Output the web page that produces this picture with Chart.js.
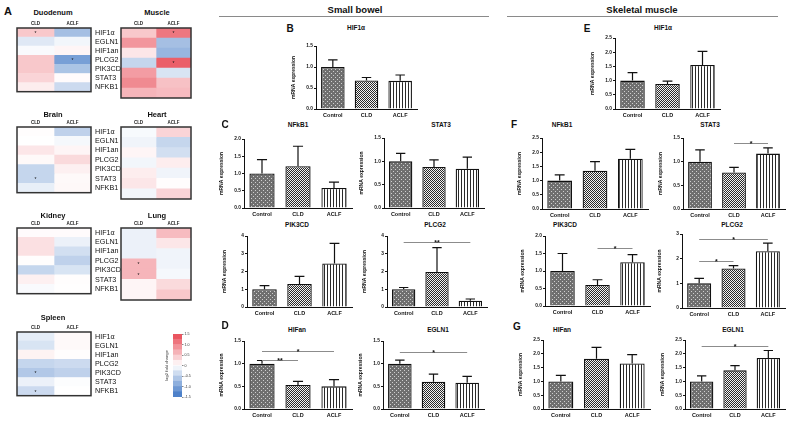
<!DOCTYPE html>
<html><head><meta charset="utf-8">
<script src="https://cdn.jsdelivr.net/npm/chart.js@4.4.1/dist/chart.umd.min.js"></script>
<style>
body{margin:0;width:791px;height:422px;background:#fff;position:relative;overflow:hidden;font-family:"Liberation Sans",Arial,sans-serif;}
.t{position:absolute;transform:translate(-50%,-50%);white-space:nowrap;font-weight:bold;color:#111;line-height:1;}
.hl{position:absolute;height:0;border-top:1px solid #8a8a8a;}
canvas{position:absolute;}
</style></head><body>
<script>
// ---------------- DATA ----------------
const groups = ['Control', 'CLD', 'ACLF'];
const genes = ['HIF1α', 'EGLN1', 'HIF1an', 'PLCG2', 'PIK3CD', 'STAT3', 'NFKB1'];

// heatmap log2 fold change (CLD, ACLF) per organ
const duodenumCLD  = [0.45, -0.25, -0.05, 0.45, 0.45, 0.35, 0.15];
const duodenumACLF = [-0.7, -0.1, 0.08, -1.05, -0.65, 0.03, -0.4];
const muscleCLD    = [0.45, 0.85, 0.2, -0.45, 0.8, 0.95, 0.6];
const muscleACLF   = [1.1, -0.7, -0.8, 1.3, -0.3, 0.5, 0.55];
const brainCLD     = [0.02, 0.0, 0.2, 0.05, -0.45, -0.45, -0.18];
const brainACLF    = [-0.5, -0.08, 0.08, 0.3, 0.12, 0.05, 0.06];
const heartCLD     = [-0.06, -0.12, 0.08, -0.1, 0.15, 0.2, -0.1];
const heartACLF    = [0.35, -0.45, -0.35, 0.15, -0.12, 0.02, 0.35];
const kidneyCLD    = [0.03, 0.25, 0.25, 0.02, -0.45, 0.12, -0.05];
const kidneyACLF   = [0.03, -0.15, -0.35, -0.5, -0.3, 0.02, 0.01];
const lungCLD      = [-0.15, -0.15, -0.15, 0.6, 0.6, 0.08, 0.08];
const lungACLF     = [0.55, 0.2, -0.12, -0.12, -0.08, 0.3, 0.45];
const spleenCLD    = [-0.2, -0.3, 0.1, -0.45, -0.6, -0.15, -0.4];
const spleenACLF   = [0.05, 0.05, 0.02, -0.4, -0.5, -0.02, 0.0];
// significance markers (gene index)
const duodenumStarsCLD = [0], duodenumStarsACLF = [3];
const muscleStarsCLD = [], muscleStarsACLF = [0, 3];
const brainStarsCLD = [5], brainStarsACLF = [];
const heartStarsCLD = [], heartStarsACLF = [];
const kidneyStarsCLD = [], kidneyStarsACLF = [];
const lungStarsCLD = [3, 4], lungStarsACLF = [];
const spleenStarsCLD = [4, 6], spleenStarsACLF = [];
const colorbarLevels = [-1.5, -1.25, -1, -0.75, -0.5, -0.25, 0, 0.25, 0.5, 0.75, 1, 1.25, 1.5];
const colorbarTicks = [-1.5, -1, -0.5, 0, 0.5, 1, 1.5];

// small bowel mRNA expression (mean, SEM)
const sbHIF1a = [1.00, 0.68, 0.67],  sbHIF1aErr = [0.17, 0.07, 0.14];
const sbNFKB1 = [1.00, 1.21, 0.58],  sbNFKB1Err = [0.40, 0.58, 0.17];
const sbSTAT3 = [1.00, 0.88, 0.84],  sbSTAT3Err = [0.17, 0.15, 0.25];
const sbPIK3CD = [1.00, 1.30, 2.45], sbPIK3CDErr = [0.20, 0.43, 1.13];
const sbPLCG2 = [1.00, 1.97, 0.35],  sbPLCG2Err = [0.10, 1.38, 0.10];
const sbHIFan = [1.00, 0.53, 0.50],  sbHIFanErr = [0.07, 0.08, 0.15];
const sbEGLN1 = [1.00, 0.60, 0.58],  sbEGLN1Err = [0.08, 0.17, 0.14];
// skeletal muscle
const smHIF1a = [1.00, 0.88, 1.55],  smHIF1aErr = [0.28, 0.10, 0.48];
const smNFKB1 = [1.00, 1.35, 1.77],  smNFKB1Err = [0.20, 0.32, 0.33];
const smSTAT3 = [1.00, 0.77, 1.17],  smSTAT3Err = [0.25, 0.11, 0.12];
const smPIK3CD = [1.00, 0.60, 1.25], smPIK3CDErr = [0.50, 0.15, 0.22];
const smPLCG2 = [1.00, 1.60, 2.30],  smPLCG2Err = [0.20, 0.12, 0.33];
const smHIFan = [1.00, 1.82, 1.65],  smHIFanErr = [0.22, 0.41, 0.32];
const smEGLN1 = [1.00, 1.40, 1.85],  smEGLN1Err = [0.20, 0.17, 0.27];
// significance brackets [from, to, value, label]
const sbPLCG2Sig = [[0, 2, 3.66, '**']];
const sbHIFanSig = [[0, 1, 1.09, '**'], [0, 2, 1.28, '*']];
const sbEGLN1Sig = [[0, 2, 1.25, '*']];
const smSTAT3Sig = [[1, 2, 1.39, '*']];
const smPIK3CDSig = [[1, 2, 1.65, '*']];
const smPLCG2Sig = [[0, 1, 1.9, '*'], [0, 2, 2.8, '*']];
const smEGLN1Sig = [[0, 2, 2.28, '*']];

// ---------------- HELPERS ----------------
const FF = '"Liberation Sans", Arial, sans-serif';
function addText(txt, x, y, size, extra) {
  const d = document.createElement('div');
  d.className = 't'; d.textContent = txt;
  d.style.left = x + 'px'; d.style.top = y + 'px'; d.style.fontSize = size + 'px';
  if (extra) Object.assign(d.style, extra);
  document.body.appendChild(d);
}
function hline(x, y, w) {
  const d = document.createElement('div'); d.className = 'hl';
  d.style.left = x + 'px'; d.style.top = y + 'px'; d.style.width = w + 'px';
  document.body.appendChild(d);
}
function makeCanvas(x, y, w, h) {
  const c = document.createElement('canvas');
  c.width = Math.round(w); c.height = Math.round(h);
  c.style.left = Math.round(x) + 'px'; c.style.top = Math.round(y) + 'px';
  document.body.appendChild(c); return c;
}
function pattern(size, draw) {
  const c = document.createElement('canvas'); c.width = size; c.height = size;
  const g = c.getContext('2d'); draw(g);
  return g.createPattern(c, 'repeat');
}
const patCtrl = pattern(4, g => { g.fillStyle = '#6f6f6f'; g.fillRect(0,0,4,4); g.fillStyle = '#cfcfcf'; g.fillRect(0,0,1,1); g.fillRect(2,2,1,1); });
const patCLD = pattern(2, g => { g.fillStyle = '#f2f2f2'; g.fillRect(0,0,2,2); g.fillStyle = '#2a2a2a'; g.fillRect(0,0,1,1); g.fillRect(1,1,1,1); });
const patACLF = pattern(3, g => { g.fillStyle = '#ffffff'; g.fillRect(0,0,3,3); g.fillStyle = '#2a2a2a'; g.fillRect(0,0,1,3); });

function colorFor(v) {
  const t = Math.max(-1, Math.min(1, v / 1.5));
  let c;
  if (t >= 0) c = [255 + (232 - 255) * t, 255 + (70 - 255) * t, 255 + (82 - 255) * t];
  else { const s = -t; c = [255 + (62 - 255) * s, 255 + (118 - 255) * s, 255 + (196 - 255) * s]; }
  return 'rgb(' + c.map(Math.round).join(',') + ')';
}

// ---------------- BAR CHARTS ----------------
const errPlugin = {
  id: 'errbars',
  afterDatasetsDraw(chart) {
    const ctx = chart.ctx, ys = chart.scales.y, xs = chart.scales.x;
    const ds = chart.data.datasets[0], meta = chart.getDatasetMeta(0);
    ctx.save();
    ctx.strokeStyle = '#111'; ctx.lineWidth = 1.2;
    meta.data.forEach((bar, i) => {
      const v = ds.data[i], e = ds.errs[i];
      const y0 = ys.getPixelForValue(v), y1 = ys.getPixelForValue(v + e);
      const cw = bar.width * 0.2;
      ctx.beginPath();
      ctx.moveTo(bar.x, y0); ctx.lineTo(bar.x, y1);
      ctx.moveTo(bar.x - cw, y1); ctx.lineTo(bar.x + cw, y1);
      ctx.stroke();
    });
    (ds.sigs || []).forEach(s => {
      const xa = xs.getPixelForValue(s[0]), xb = xs.getPixelForValue(s[1]);
      const yy = Math.round(ys.getPixelForValue(s[2])) + 0.5;
      ctx.strokeStyle = '#8c8c8c'; ctx.lineWidth = 1;
      ctx.beginPath(); ctx.moveTo(xa, yy); ctx.lineTo(xb, yy); ctx.stroke();
      ctx.fillStyle = '#111'; ctx.font = 'bold 7px ' + FF;
      ctx.textAlign = 'center'; ctx.textBaseline = 'alphabetic';
      ctx.fillText(s[3], (xa + xb) / 2, yy + 2.5);
    });
    ctx.restore();
  }
};
const BL = 25, BT = 5, BR = 3, BB = 12;
function barChart(rect, values, errs, yMax, yStep, sigs) {
  const [x0, x1, yT, yB] = rect;
  const c = makeCanvas(x0 - BL, yT - BT, x1 - x0 + BL + BR, yB - yT + BT + BB);
  new Chart(c, {
    type: 'bar',
    data: { labels: groups, datasets: [{
      data: values, errs: errs, sigs: sigs,
      backgroundColor: [patCtrl, patCLD, patACLF],
      borderColor: '#111', borderWidth: 1.3,
      barPercentage: 0.7, categoryPercentage: 1
    }] },
    options: {
      responsive: false, animation: false, events: [],
      layout: { padding: { top: BT, right: BR, left: 0, bottom: 0 } },
      plugins: { legend: { display: false }, tooltip: { enabled: false } },
      scales: {
        x: {
          grid: { display: false, drawTicks: false }, border: { color: '#111', width: 1 },
          ticks: { font: { size: 5.5, weight: 'bold', family: FF }, color: '#111', padding: 3, maxRotation: 0, autoSkip: false },
          afterFit: s => { s.height = BB; }
        },
        y: {
          min: 0, max: yMax,
          ticks: { stepSize: yStep, font: { size: 4.8, weight: 'bold', family: FF }, color: '#111', padding: 1,
                   callback: v => yStep < 1 ? Number(v).toFixed(1) : String(v) },
          grid: { display: true, drawOnChartArea: false, drawTicks: true, tickLength: 2, color: '#111' },
          border: { color: '#111', width: 1 },
          title: { display: true, text: 'mRNA expression', font: { size: 5, weight: 'bold', family: FF }, color: '#111', padding: 0 },
          afterFit: s => { s.width = BL; }
        }
      }
    },
    plugins: [errPlugin]
  });
}

// ---------------- HEATMAPS ----------------
const hmPlugin = {
  id: 'hmframe',
  afterDatasetsDraw(chart) {
    const ctx = chart.ctx, a = chart.chartArea;
    ctx.save();
    chart.data.datasets.forEach((ds, di) => {
      const meta = chart.getDatasetMeta(di);
      (ds.stars || []).forEach(i => {
        const el = meta.data[i];
        ctx.fillStyle = '#111'; ctx.font = '5px ' + FF;
        ctx.textAlign = 'center'; ctx.textBaseline = 'middle';
        ctx.fillText('*', (el.x + el.base) / 2, el.y + 1);
      });
    });
    ctx.strokeStyle = '#333'; ctx.lineWidth = 1.5;
    ctx.strokeRect(a.left, a.top, a.right - a.left, a.bottom - a.top);
    ctx.restore();
  }
};
function heatmap(rect, cld, aclf, sCLD, sACLF, showGenes) {
  const [x0, x1, yT, yB] = rect;
  const HT = 9, GW = showGenes ? 30 : 0;
  const c = makeCanvas(x0 - 2, yT - HT, x1 - x0 + 4 + GW, yB - yT + HT + 2);
  new Chart(c, {
    type: 'bar',
    data: { labels: genes, datasets: [
      { data: cld.map(() => 1), lfc: cld, backgroundColor: cld.map(colorFor), stars: sCLD },
      { data: aclf.map(() => 1), lfc: aclf, backgroundColor: aclf.map(colorFor), stars: sACLF }
    ] },
    options: {
      indexAxis: 'y', responsive: false, animation: false, events: [],
      layout: { padding: { left: 2, bottom: 2, right: showGenes ? 0 : 2, top: 0 } },
      datasets: { bar: { barPercentage: 1, categoryPercentage: 1, borderWidth: 0 } },
      plugins: { legend: { display: false }, tooltip: { enabled: false } },
      scales: {
        x: { type: 'linear', position: 'top', stacked: true, min: 0, max: 2,
             grid: { display: false, drawTicks: false }, border: { display: false },
             afterBuildTicks: s => { s.ticks = [{ value: 0.5 }, { value: 1.5 }]; },
             ticks: { callback: v => v === 0.5 ? 'CLD' : 'ACLF', font: { size: 4.5, weight: 'bold', family: FF }, color: '#222', padding: 2, maxRotation: 0, autoSkip: false },
             afterFit: s => { s.height = HT; } },
        y: { stacked: true, position: 'right', display: showGenes,
             grid: { display: false, drawTicks: false }, border: { display: false },
             ticks: { font: { size: 7.2, family: FF }, color: '#111', padding: 4, autoSkip: false },
             afterFit: s => { s.width = GW; } }
      }
    },
    plugins: [hmPlugin]
  });
}

function colorbar(rect) {
  const [x0, x1, yT, yB] = rect;
  const LW = 9, RW = 11;
  const c = makeCanvas(x0 - LW, yT - 4, x1 - x0 + LW + RW, yB - yT + 8);
  const datasets = [];
  for (let k = 0; k < colorbarLevels.length - 1; k++) {
    const lo = colorbarLevels[k], hi = colorbarLevels[k + 1];
    datasets.push({ data: [[lo, hi]], backgroundColor: colorFor((lo + hi) / 2), borderWidth: 0, grouped: false,
                    barPercentage: 1, categoryPercentage: 1 });
  }
  new Chart(c, {
    type: 'bar',
    data: { labels: [''], datasets },
    options: {
      responsive: false, animation: false, events: [],
      layout: { padding: { top: 4, bottom: 4, left: 0, right: 0 } },
      plugins: { legend: { display: false }, tooltip: { enabled: false } },
      scales: {
        x: { display: false },
        y: { position: 'right', min: -1.5, max: 1.5,
             afterBuildTicks: s => { s.ticks = colorbarTicks.map(v => ({ value: v })); },
             ticks: { font: { size: 3.6, family: FF }, color: '#333', padding: 1 },
             grid: { display: true, drawOnChartArea: false, tickLength: 1.5, color: '#888' },
             border: { display: false }, afterFit: s => { s.width = RW; } },
        y2: { position: 'left', min: -1.5, max: 1.5, grid: { display: false, drawTicks: false }, border: { display: false },
              ticks: { display: false },
              title: { display: true, text: 'log2 fold change', font: { size: 4.2, family: FF }, color: '#333', padding: 0 },
              afterFit: s => { s.width = LW; } }
      }
    }
  });
}

// ---------------- LAYOUT ----------------
addText('A', 8, 11, 11);
const hmRows = [
  ['Duodenum', 'Muscle', 13, 28, 98, duodenumCLD, duodenumACLF, duodenumStarsCLD, duodenumStarsACLF, muscleCLD, muscleACLF, muscleStarsCLD, muscleStarsACLF],
  ['Brain', 'Heart', 115, 127, 199, brainCLD, brainACLF, brainStarsCLD, brainStarsACLF, heartCLD, heartACLF, heartStarsCLD, heartStarsACLF],
  ['Kidney', 'Lung', 216, 228, 300, kidneyCLD, kidneyACLF, kidneyStarsCLD, kidneyStarsACLF, lungCLD, lungACLF, lungStarsCLD, lungStarsACLF]
];
hmRows.forEach(r => {
  addText(r[0], 53, r[2], 7.5);
  addText(r[1], 157, r[2], 7.5);
  heatmap([17, 89, r[3], r[4]], r[5], r[6], r[7], r[8], true);
  heatmap([121, 191, r[3], r[4]], r[9], r[10], r[11], r[12], false);
});
addText('Spleen', 53, 318, 7.5);
heatmap([17, 89, 332, 402], spleenCLD, spleenACLF, spleenStarsCLD, spleenStarsACLF, true);
colorbar([173, 182, 334, 397]);

addText('Small bowel', 355, 10, 9.5);
addText('Skeletal muscle', 642, 10, 9.5);
hline(219, 16, 270);
hline(507, 16, 271);

// panel letters
addText('B', 290, 29, 10); addText('C', 225, 125, 10); addText('D', 225, 326, 10);
addText('E', 587, 29, 10); addText('F', 514, 125, 10); addText('G', 517, 327, 10);

// chart titles
const TS = 6.5;
addText('HIF1α', 356, 28, TS);
addText('NFkB1', 298, 125, TS); addText('STAT3', 441, 125, TS);
addText('PIK3CD', 297, 225, TS); addText('PLCG2', 435, 225, TS);
addText('HIFan', 297, 330, TS); addText('EGLN1', 438, 330, TS);
addText('HIF1α', 663, 28, TS);
addText('NFkB1', 562, 125, TS); addText('STAT3', 710, 125, TS);
addText('PIK3CD', 565, 225, TS); addText('PLCG2', 732, 225, TS);
addText('HIFan', 562, 330, TS); addText('EGLN1', 733, 330, TS);

// small bowel charts
barChart([316, 417, 46, 109], sbHIF1a, sbHIF1aErr, 1.5, 0.5, []);
barChart([244, 352, 139, 208], sbNFKB1, sbNFKB1Err, 2.0, 0.5, []);
barChart([384, 484, 138, 208], sbSTAT3, sbSTAT3Err, 1.5, 0.5, []);
barChart([247, 352, 236, 307], sbPIK3CD, sbPIK3CDErr, 4, 1, []);
barChart([387, 487, 236, 307], sbPLCG2, sbPLCG2Err, 4, 1, sbPLCG2Sig);
barChart([244, 352, 341, 409], sbHIFan, sbHIFanErr, 1.5, 0.5, sbHIFanSig);
barChart([383, 484, 341, 409], sbEGLN1, sbEGLN1Err, 1.5, 0.5, sbEGLN1Sig);
// skeletal muscle charts
barChart([615, 720, 38, 109], smHIF1a, smHIF1aErr, 2.5, 0.5, []);
barChart([542, 648, 138, 209], smNFKB1, smNFKB1Err, 2.5, 0.5, []);
barChart([683, 785, 138, 209], smSTAT3, smSTAT3Err, 1.5, 0.5, smSTAT3Sig);
barChart([545, 650, 236, 306], smPIK3CD, smPIK3CDErr, 2.0, 0.5, smPIK3CDSig);
barChart([682, 785, 234, 308], smPLCG2, smPLCG2Err, 3, 1, smPLCG2Sig);
barChart([543, 650, 340, 409], smHIFan, smHIFanErr, 2.5, 0.5, []);
barChart([685, 785, 340, 409], smEGLN1, smEGLN1Err, 2.5, 0.5, smEGLN1Sig);
</script>
</body></html>
